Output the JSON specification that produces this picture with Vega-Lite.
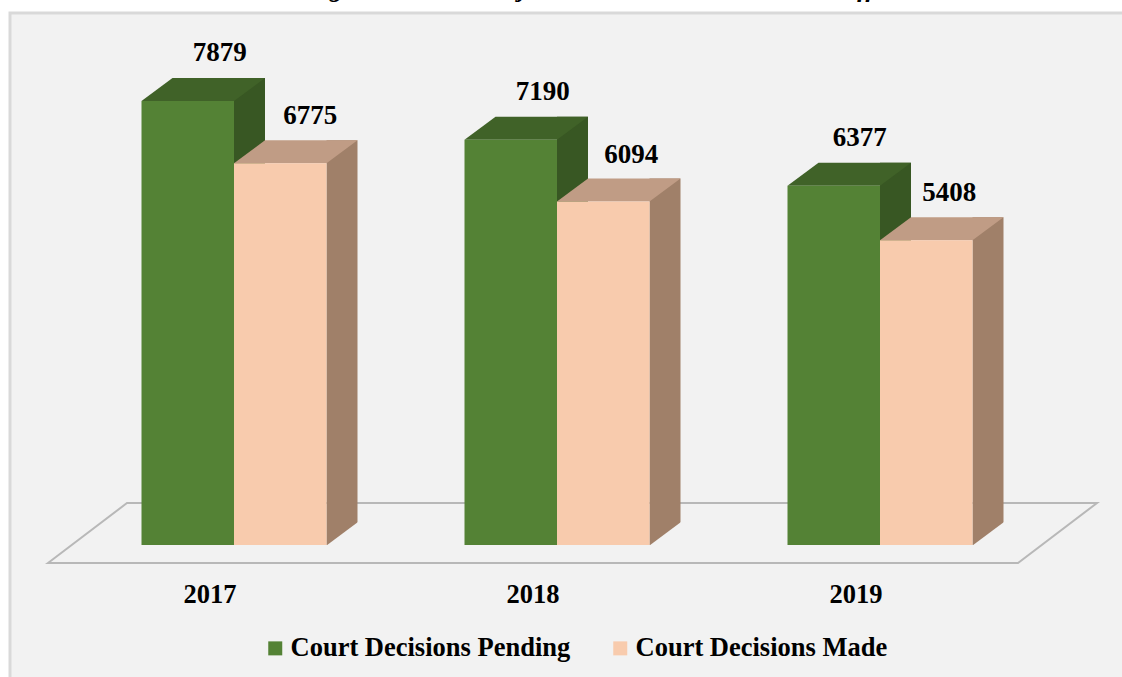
{
"$schema":"https://vega.github.io/schema/vega-lite/v6.json",
"width":1112,"height":664,
"autosize":{"type":"none"},
"padding":{"left":10,"top":13,"right":0,"bottom":0},
"background":"#ffffff",
"view":{"fill":"#f2f2f2","stroke":null},
"data":{"values":[
{"year":"2017","series":"Court Decisions Pending","value":7879},
{"year":"2017","series":"Court Decisions Made","value":6775},
{"year":"2018","series":"Court Decisions Pending","value":7190},
{"year":"2018","series":"Court Decisions Made","value":6094},
{"year":"2019","series":"Court Decisions Pending","value":6377},
{"year":"2019","series":"Court Decisions Made","value":5408}
]},
"encoding":{
"x":{"field":"year","type":"ordinal","scale":{"type":"band","domain":["2017","2018","2019"],"range":[62.5,1031.5],"paddingInner":0,"paddingOuter":0},"axis":{"title":null,"domain":false,"ticks":false,"grid":false,"labelAngle":0,"labelOffset":-24,"labelPadding":-75,"labelBaseline":"alphabetic","labelFont":"Liberation Serif","labelFontSize":26.5,"labelFontWeight":"bold","labelColor":"#000000"}},
"y":{"field":"value","type":"quantitative","scale":{"domain":[-2342.5,9441],"nice":false,"zero":false},"axis":null}
},
"layer":[
{"transform":[{"filter":"datum.year=='2017'&&datum.series=='Court Decisions Pending'"}],
 "mark":{"type":"point","shape":"M-224,132L-224,-532L888,-532","size":4,"filled":false,"stroke":"#d9d9d9","strokeWidth":3,"opacity":1},
 "encoding":{"y":{"datum":0}}},
{"transform":[{"filter":"datum.year=='2018'&&datum.series=='Court Decisions Pending'"}],
 "mark":{"type":"point","shape":"M-509,18L-430,-42L540,-42L461,18Z","size":4,"filled":false,"stroke":"#b8b8b8","strokeWidth":2,"opacity":1},
 "encoding":{"y":{"datum":0}}},
{"transform":[{"filter":"datum.year=='2018'&&datum.series=='Court Decisions Pending'"}],
 "mark":{"type":"text","font":"Liberation Serif","fontSize":26,"fontWeight":"bold","fontStyle":"italic","color":"#000000","baseline":"alphabetic","align":"center","dx":45,"dy":-2.5},
 "encoding":{"y":{"datum":9672},"text":{"value":"g\u00a0\u00a0\u00a0\u00a0\u00a0\u00a0\u00a0\u00a0\u00a0\u00a0\u00a0\u00a0\u00a0\u00a0\u00a0\u00a0\u00a0\u00a0\u00a0\u00a0\u00a0\u00a0\u00a0\u00a0\u00a0\u00a0\u00a0j\u00a0\u00a0\u00a0\u00a0\u00a0\u00a0\u00a0\u00a0\u00a0\u00a0\u00a0\u00a0\u00a0\u00a0\u00a0\u00a0\u00a0\u00a0\u00a0\u00a0\u00a0\u00a0\u00a0\u00a0\u00a0\u00a0\u00a0\u00a0\u00a0\u00a0\u00a0\u00a0\u00a0\u00a0\u00a0\u00a0\u00a0\u00a0\u00a0\u00a0\u00a0\u00a0\u00a0\u00a0\u00a0\u00a0\u00a0\u00a0\u00a0\u00a0\u00a0ff"}}},

{"transform":[{"filter":"datum.series=='Court Decisions Pending'"}],
 "mark":{"type":"bar","width":31,"xOffset":15.5,"yOffset":-23,"fill":"#385723"},
 "encoding":{"y2":{"datum":0}}},
{"transform":[{"filter":"datum.series=='Court Decisions Pending'"}],
 "mark":{"type":"point","shape":"M-46.25,0L46.25,0L77.25,-23L-15.25,-23Z","size":4,"filled":true,"fill":"#406228","strokeWidth":0,"opacity":1,"xOffset":-46.25}},
{"transform":[{"filter":"datum.series=='Court Decisions Pending'"}],
 "mark":{"type":"bar","width":92.5,"xOffset":-46.25},
 "encoding":{"y2":{"datum":0},"color":{"field":"series","type":"nominal","scale":{"domain":["Court Decisions Pending","Court Decisions Made"],"range":["#548235","#F8CBAD"]},"legend":{"title":null,"orient":"none","legendX":252,"legendY":622,"direction":"horizontal","columns":2,"symbolType":"square","symbolSize":196,"symbolStrokeWidth":0,"labelFont":"Liberation Serif","labelFontSize":26.5,"labelFontWeight":"bold","labelColor":"#000000","labelLimit":400,"labelOffset":2,"columnPadding":36}}}},

{"transform":[{"filter":"datum.series=='Court Decisions Made'"}],
 "mark":{"type":"bar","width":31,"xOffset":108,"yOffset":-23,"fill":"#A08069"},
 "encoding":{"y2":{"datum":0}}},
{"transform":[{"filter":"datum.series=='Court Decisions Made'"}],
 "mark":{"type":"point","shape":"M46.25,0.5L77.75,0.5L77.75,-23Z","size":4,"filled":true,"fill":"#f2f2f2","strokeWidth":0,"opacity":1,"xOffset":46.25},
 "encoding":{"y":{"datum":0}}},
{"transform":[{"filter":"datum.series=='Court Decisions Made'"}],
 "mark":{"type":"point","shape":"M-46.25,0L46.25,0L77.25,-23L-15.25,-23Z","size":4,"filled":true,"fill":"#C09C85","strokeWidth":0,"opacity":1,"xOffset":46.25}},
{"transform":[{"filter":"datum.series=='Court Decisions Made'"}],
 "mark":{"type":"bar","width":92.5,"xOffset":46.25},
 "encoding":{"y2":{"datum":0},"color":{"field":"series","type":"nominal"}}},

{"transform":[{"filter":"datum.series=='Court Decisions Pending'"}],
 "mark":{"type":"text","font":"Liberation Serif","fontSize":27,"fontWeight":"bold","color":"#000000","baseline":"alphabetic","align":"center","dy":-40,"dx":{"expr":"datum.year=='2019'?-20.25:-14.25"}},
 "encoding":{"text":{"field":"value","type":"quantitative","format":"d"}}},
{"transform":[{"filter":"datum.series=='Court Decisions Made'"}],
 "mark":{"type":"text","font":"Liberation Serif","fontSize":27,"fontWeight":"bold","color":"#000000","baseline":"alphabetic","align":"center","dy":-39,"dx":{"expr":"datum.year=='2017'?76.25:(datum.year=='2018'?74.25:69.25)"}},
 "encoding":{"text":{"field":"value","type":"quantitative","format":"d"}}}
]
}
